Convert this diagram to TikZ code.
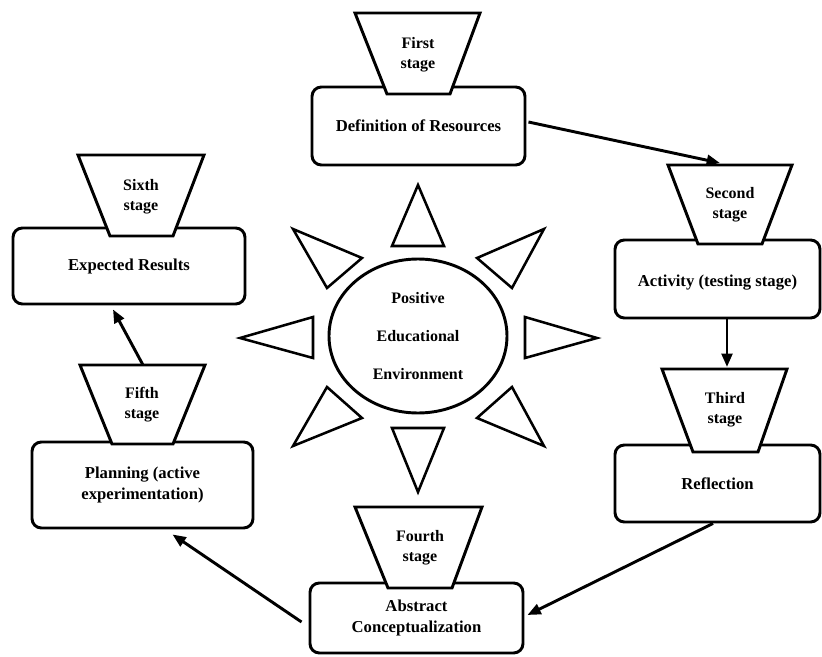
\documentclass[tikz,border=0pt]{standalone}
\usepackage{fontspec}
\setmainfont{Liberation Serif}
\usetikzlibrary{arrows.meta,calc,shapes.geometric}
\begin{document}
\begin{tikzpicture}[x=0.75pt,y=-0.75pt,
  boxnode/.style={draw, line width=2.2pt, rounded corners=7pt, fill=white, inner sep=0pt,
    font=\bfseries\fontsize{12.5}{15.5}\selectfont, align=center},
  trap/.style={draw, line width=2.2pt, fill=white, line join=miter},
  lbl/.style={font=\bfseries\fontsize{12}{15}\selectfont, align=center, inner sep=0pt},
  ray/.style={draw, line width=1.9pt, line join=miter},
  arr/.style={line width=2.2pt, -{Triangle[length=10pt,width=8pt]}}]
\useasboundingbox[fill=white] (0,0) rectangle (822,657);

% boxes
\node[boxnode, minimum width=159.75pt, minimum height=58.5pt] (box1) at (418.5,126) {Definition of Resources};
\node[boxnode, minimum width=153.75pt, minimum height=58.5pt] (box2) at (717.5,279) {\\[-2pt]Activity (testing stage)};
\node[boxnode, minimum width=153.75pt, minimum height=57.75pt] (box3) at (717.5,483.5) {Reflection};
\node[boxnode, minimum width=159.75pt, minimum height=52.5pt] (box4) at (416.5,618) {Abstract\\Conceptualization};
\node[boxnode, minimum width=165.75pt, minimum height=64.5pt] (box5) at (142.5,485) {Planning (active\\experimentation)};
\node[boxnode, minimum width=174pt, minimum height=57pt] (box6) at (129,266) {Expected Results};

% trapezoids
\draw[trap] (355,13) -- (480,13) -- (450,94) -- (387,94) -- cycle;
\node[lbl] (t1) at (418,55) {First\\stage};
\draw[trap] (668,165) -- (792,165) -- (762,244) -- (698,244) -- cycle;
\node[lbl] (t2) at (730,205) {Second\\stage};
\draw[trap] (662,369) -- (787,369) -- (758,452) -- (693,452) -- cycle;
\node[lbl] (t3) at (725,410) {Third\\stage};
\draw[trap] (355,507) -- (482,507) -- (452,588) -- (388,588) -- cycle;
\node[lbl] (t4) at (420,548) {Fourth\\stage};
\draw[trap] (80,365) -- (205,365) -- (173,444) -- (112,444) -- cycle;
\node[lbl] (t5) at (142,405) {Fifth\\stage};
\draw[trap] (78,155) -- (204,155) -- (173,236) -- (110,236) -- cycle;
\node[lbl] (t6) at (141,197) {Sixth\\stage};

% sun
\node[draw, line width=2.2pt, ellipse, minimum width=133.5pt, minimum height=115.5pt, inner sep=0pt,
  font=\bfseries\fontsize{12}{28.5}\selectfont, align=center] (sun) at (418,336)
  {Positive\\Educational\\Environment};
\draw[ray] (418,185) -- (444,246) -- (392,246) -- cycle;
\draw[ray] (418,492) -- (444,428) -- (392,428) -- cycle;
\draw[ray] (597,338) -- (525,317) -- (525,358) -- cycle;
\draw[ray] (240,338) -- (313,317) -- (313,358) -- cycle;
\draw[ray] (544,229) -- (477,258) -- (512,288) -- cycle;
\draw[ray] (544,446) -- (477,418) -- (512,387) -- cycle;
\draw[ray] (293,229) -- (362,258) -- (327,288) -- cycle;
\draw[ray] (293,446) -- (362,418) -- (327,387) -- cycle;

% connectors
\coordinate (t2top) at (720,163);
\coordinate (t3top) at (727,367);
\coordinate (t5top) at (143,365);
\draw[arr] ($(box1.east)+(2,-4)$) -- (t2top);
\draw[arr] (box2.south -| t3top) -- (t3top);
\draw[arr] ($(box3.south)+(-4.5,0)$) -- ($(box4.east)+(3,-3)$);
\draw[arr] ($(box4.west)+(-7,4)$) -- ($(box5.south)+(30,5)$);
\draw[arr] (t5top) -- ($(box6.south)+(-16,4)$);
\end{tikzpicture}
\end{document}
